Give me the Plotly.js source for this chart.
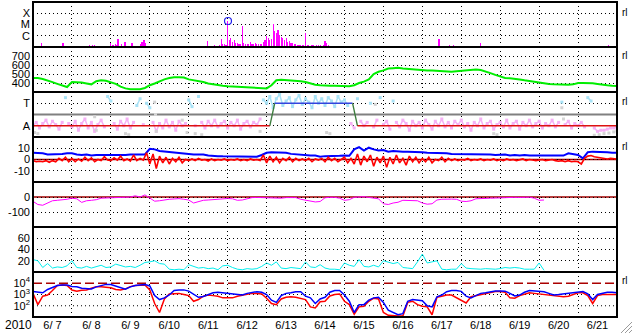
<!DOCTYPE html>
<html><head><meta charset="utf-8">
<script src="https://cdn.plot.ly/plotly-3.0.1.min.js"></script>
<style>html,body{margin:0;padding:0;background:#fff}#chart{width:633px;height:334px}</style>
</head><body><div id="chart"></div>
<script>
// ---------- DATA (hours counted from 2010-06-07 00:00 UT) ----------
// Panel 1: GOES X-ray, log10 flux (W/m2)
const xrayHours = [5.5,18.5,20.3,35,36.5,38,45.6,48,49.3,50.6,51.8,52.4,54.3,56.7,61,62.3,66,67.2,68.4,69,86.3,91.9,107.3,
  112,113,114,115,116,117,118,119,120,121,122,123,124,125,126,127,128,129,130,131,132,133,134,135,136,137,138,139,140,141,
  142,143,144,145,146,147,148,149,150,151,152,153,154,155,156,157,158,159,160,161,162,163,164,165,166,167,168,169,170,171,
  172,173,174,175,176,177,178,179,180,181,182,183,
  249.7,250.3,257,259,275.6,282.4,355];
const xrayLog = [-6.64,-6.64,-6.91,-6.82,-6.82,-6.82,-6.91,-6.64,-6.82,-6.73,-6.82,-6.29,-6.73,-6.56,-6.64,-6.91,-6.73,-6.56,-6.38,-6.64,-6.91,-6.91,-6.47,
  -6.82,-6.91,-6.91,-6.78,-6.3,-6.7,-6.73,-6.85,-4.69,-6.38,-6.2,-6.56,-6.38,-6.64,-6.64,-6.73,-6.73,-5.13,-6.64,-6.73,-6.73,-6.73,
  -6.56,-6.73,-6.73,-6.64,-6.73,-6.73,-6.73,-6.73,
  -6.56,-6.38,-6.02,-6.2,-6.38,-6.3,-4.96,-5.6,-5.76,-5.49,-5.9,-6.1,-6.2,-6.38,-6.2,-6.56,-6.47,-6.64,-6.64,-6.73,-6.73,-6.82,
  -6.85,-6.82,-6.82,-6.85,-5.76,-6.82,-6.85,-6.88,-6.82,-6.85,-6.88,-6.82,-6.85,-6.85,-6.88,-6.82,-6.47,-6.64,-6.82,-6.88,
  -6.64,-6.29,-6.82,-6.82,-6.64,-6.91,-6.82];
const flareHours = [120.2];
const flareLog = [-4.69];
const xrayTickVals = [-6, -5, -4];
const xrayTickText = ['C', 'M', 'X'];

// Panel 2: solar wind speed (km/s), every 3 h
const windSpeed = [
  455,455,445,430,410,390,370,355,
  410,410,405,395,385,420,430,425,
  410,390,360,340,330,330,330,345,
  375,395,420,440,455,465,465,460,
  440,432,425,410,395,385,378,370,
  365,362,358,355,352,348,345,340,
  340,375,430,435,432,430,428,420,
  410,395,380,375,370,370,370,370,
  368,365,375,400,415,440,500,525,
  540,560,565,570,560,555,550,545,
  545,540,540,535,530,525,525,530,
  535,545,550,550,545,530,510,490,
  470,455,452,450,440,430,420,415,
  405,395,388,385,382,380,380,385,
  400,400,402,398,390,380,375,370,
  368];

// Panel 3: IMF sector indicator (A=1, T=3), every 2 h
const imfPhi = [
  1.0,1.3,0.8,1.2,1.5,0.9,1.4,1.1,0.7,1.3,3.5,1.2,
  0.9,1.4,0.6,1.2,1.6,0.8,1.3,0.5,1.1,1.5,0.9,3.6,
  3.2,1.2,0.7,1.4,1.0,1.6,0.8,1.3,2.8,3.4,1.1,3.0,
  2.6,1.3,0.5,1.2,0.8,1.5,0.9,1.3,0.6,1.4,1.0,1.2,
  3.3,2.7,1.0,3.6,1.3,0.8,1.4,1.0,1.5,0.9,1.2,1.4,
  0.8,1.3,1.0,1.5,0.7,1.2,1.4,0.9,1.3,1.1,1.6,3.3,
  3.0,3.6,2.6,3.4,3.8,2.8,3.2,3.5,2.7,3.3,3.7,2.9,
  3.4,3.1,2.6,3.6,3.0,3.4,2.8,3.5,3.2,2.7,3.6,3.1,
  3.3,2.8,1.2,0.8,3.4,1.4,1.0,1.3,3.0,0.9,1.5,3.5,
  1.1,1.4,0.7,3.2,1.3,0.9,1.5,1.2,0.6,1.4,1.0,1.3,
  0.8,1.5,1.1,0.7,1.4,1.0,1.6,0.9,1.3,0.8,1.4,1.1,
  1.5,0.9,1.2,0.6,1.3,1.0,1.6,0.8,1.2,1.4,0.7,1.1,
  1.3,0.9,1.5,0.8,1.2,1.4,0.7,1.3,1.0,1.5,0.9,1.2,
  1.4,0.8,1.2,1.0,1.5,0.9,1.3,3.1,1.1,1.4,0.8,1.2,
  1.0,1.3,0.9,3.5,3.2,0.8,0.5,0.6,0.6,0.7,0.8,0.8,
  0.9];
const grayHours = [1,3,38,39,57,59,75,75.5,76,92,95,100,104,140,181,183,211,284,286,326,327,346,349,352,355,358,360];
const grayVals  = [0.4,0.3,1.8,0.6,0.3,0.2,3.1,2.0,0.5,1.5,0.4,0.3,0.2,0.5,0.4,0.3,2.9,0.3,0.2,2.6,1.6,0.15,0.2,0.3,0.35,0.45,0.55];
const sectorHours = [0, 146, 149, 197, 200, 360];
const sectorVals  = [1, 1, 3, 3, 1, 1];
const sectorColors = ['#dd1111', '#3d7d3d', '#3344dd', '#3d7d3d', '#dd1111'];
const sectorTickVals = [1, 3];
const sectorTickText = ['A', 'T'];

// Panel 4: IMF Bt (every 3 h) and Bz (every 2 h), nT
const imfBt = [
  6,6,5.5,4.5,4.5,4.5,5,5.5,
  5.5,4.5,4,4.5,3.5,4,4,3.5,
  4,3.5,4,4,4.5,4.5,4,4.5,
  9.5,9,7.5,7,7,6,5.5,5.5,
  5,4.5,4.5,4.5,3.5,3,3,2.8,
  2.8,2.5,2.5,2.5,2.5,2.5,2.5,4,
  6,6.5,6.5,6.5,6,5,4.5,4,
  4,3.5,3.5,2.5,3,3.3,3.3,3.3,
  3.5,3.3,9,11,8,10.5,9,8,
  8.5,7,7.5,7,7,7,7,6.5,
  6.5,6,6,5.5,6,5.5,5,5,
  5,4.5,5,4.5,4.5,4.5,4.5,4,
  4,4.5,3.5,4,3.5,4,3.5,3.5,
  3.5,3.5,3.3,3.5,3.3,3.5,5.5,5,
  4,1,6.5,7,7,6.5,6.5,6,
  6];
const imfBz = [
  -1,-2,-1.5,-2,-1,-2.5,-1,-2,1,-1,2,-2,
  1,-2,0.5,-1.5,2,-1,1.5,-2,0,-1,2.5,-0.5,
  -1,1.5,-0.5,3,-1,0.5,-1.5,4,-1,1,-0.5,6,
  -4,5,-8,3,-3,2,-4,1,-2,2,-3,0,
  -1,0.5,-1,1,-0.5,0,-1.5,0.5,-1,0,-0.5,0.5,
  -1,0,-0.5,0.5,-1,0,-1,0.5,-0.5,0,-1,4,
  -3,3,-2,2,-3,1,-1,2,-2,1,-1,0.5,
  -1,1,-2,0.5,-0.5,1,-2,2,-1,1,-2,0,
  2,-3,1,-4,5,-5,3,-2,4,-6,2,-3,
  3,-7,2,-4,4,-3,1,-5,3,-2,2,-3,
  1,-2,2,-3,0,-1,2,-2,1,-1,0.5,-1,
  0,-0.5,1,-1,0,-0.5,0.5,-1,0,-0.5,0.5,-1,
  0,-1,0.5,-0.5,0,-1,-0.5,0.5,-1,0,-0.5,-1,
  -0.5,0,-1,-0.5,0,-1,-1.5,-1,-2,-1,-2,-1.5,
  -2,-4,1,3,3.5,2.5,2,1.5,1,0.5,1,0.5,
  0.5];

// Panel 5: Dst (nT), every 3 h
const dst = [
  -29,-50,-55,-38,-25,-22,-20,-15,
  -8,-12,-36,-25,-22,-18,-8,-7,
  -6,-5,-3,-2,0,8,0,14,
  -6,-28,-25,-18,-15,-13,-11,-15,
  -20,-40,-30,-22,-20,-18,-12,-10,
  -10,-12,-22,-20,-10,-4,-3,-4,
  -5,-11,-10,-8,-4,-3,-4,-15,
  -22,-24,-33,-30,-5,-2,-2,-8,
  -22,-18,-2,0,2,-3,-10,-12,
  -45,-50,-40,-35,-22,-22,-24,-25,
  -40,-48,-45,-20,-15,-13,-14,-15,
  -28,-30,-25,-12,-9,-8,-8,-7,
  -5,-4,-3,-2,-3,-2,-1,-8,
  -22,-20];
const dstTickVals = [-100, 0];
const dstTickText = ['-100', '0'];

// Panel 6: every 3 h
const panel6 = [
  22,20,8,15,7,9,8,11,
  20,8,7,10,7,9,12,8,
  9,14,12,9,10,8,12,17,
  18,20,15,14,5,4,5,4,
  13,10,7,8,6,7,4,11,
  12,8,5,4,6,5,6,10,
  16,12,18,7,6,8,7,6,
  18,9,8,13,7,5,5,4,
  16,12,10,22,10,9,12,9,
  20,18,15,17,8,7,6,18,
  32,16,18,20,5,4,5,5,
  15,7,6,5,5,6,5,5,
  6,8,7,8,7,5,5,5,
  16,3];

// Panel 7: electron flux, log10, every 3 h
const fluxBlueLog = [
  3.26,3.2,3.15,3.45,3.65,3.8,3.85,3.85,
  3.72,3.68,3.56,3.55,3.5,3.68,3.8,3.9,
  3.88,3.72,3.62,3.47,3.68,3.8,3.85,3.88,
  3.76,2.9,2.55,2.7,2.96,3.35,3.41,3.41,
  3.3,3.0,2.75,2.82,2.95,3.15,3.2,3.15,
  3.1,3.0,2.96,2.96,3.1,3.2,3.25,3.2,
  3.0,2.5,2.3,2.9,3.1,3.15,3.25,3.25,
  2.85,2.7,2.2,2.6,2.75,3.2,3.35,3.35,
  2.96,2.4,1.4,2.1,2.1,2.5,2.7,2.75,
  2.3,1.6,1.4,1.2,1.3,2.4,2.55,2.5,
  2.45,2.0,1.9,2.8,2.95,3.25,3.35,3.35,
  3.28,2.85,2.7,2.9,3.1,3.15,3.25,3.32,
  3.32,3.3,3.1,2.87,2.95,3.2,3.35,3.32,
  3.28,3.25,3.1,2.96,3.0,3.05,3.1,3.2,
  3.26,3.26,3.05,2.55,3.0,3.1,3.2,3.2,
  3.15];
const fluxRedLog = [
  3.1,2.1,2.85,2.96,3.35,3.8,3.85,3.8,
  3.4,3.3,3.38,3.4,3.55,3.7,3.7,3.65,
  3.6,3.45,3.4,3.5,3.7,3.8,3.85,3.85,
  3.4,2.2,1.4,2.6,3.05,3.1,3.1,3.0,
  2.9,2.4,2.55,2.85,2.95,2.9,2.85,2.7,
  2.67,2.7,2.85,2.95,3.05,3.1,3.1,3.05,
  2.67,2.2,2.1,2.6,2.75,2.8,2.75,2.67,
  2.55,1.9,1.8,2.35,2.4,2.87,3.0,3.05,
  2.4,2.1,1.25,1.9,1.95,2.4,2.67,2.6,
  1.4,1.15,1.1,1.1,1.1,2.3,2.4,2.1,
  1.95,1.9,1.2,2.75,2.85,2.95,2.95,2.7,
  2.5,2.25,2.8,2.9,3.0,3.05,3.2,3.26,
  3.26,3.2,2.7,2.67,2.9,3.05,3.15,3.1,
  3.05,2.96,2.9,2.85,2.85,2.8,2.85,3.0,
  3.15,3.15,2.9,2.2,2.9,3.0,3.0,3.0,
  3.0];
const fluxTickVals = [2, 3, 4];
const fluxTickText = ['10<sup>2</sup>', '10<sup>3</sup>', '10<sup>4</sup>'];

// ---------- helpers ----------
const T0 = Date.UTC(2010, 5, 7);
const dt = h => new Date(T0 + h * 3600000).toISOString().slice(0, 19).replace('T', ' ');
const hrs = (arr, step) => arr.map((_, i) => i * step);
const X3 = a => hrs(a, 3).map(dt);
const X2 = a => hrs(a, 2).map(dt);
const XRAY_FLOOR = -7;

const L = 33, R = 617, TOPPX = 2, BOTPX = 317;
const PW = R - L, PH = BOTPX - TOPPX, PANEL = 45;
const px = x => (x - L) / PW;
const py = y => (BOTPX - y) / PH;
const dom = i => [py(TOPPX + PANEL * (i + 1)), py(TOPPX + PANEL * i)];

// ---------- traces ----------
const traces = [];
traces.push({type: 'bar', x: xrayHours.map(dt), y: xrayLog.map(v => v - XRAY_FLOOR), base: XRAY_FLOOR,
  width: 2500000, marker: {color: '#ff00ff', line: {width: 0}}, xaxis: 'x', yaxis: 'y'});
traces.push({type: 'scatter', mode: 'markers', x: flareHours.map(dt), y: flareLog, xaxis: 'x', yaxis: 'y',
  marker: {symbol: 'circle-open', size: 7, color: '#2222ee', line: {width: 1.2, color: '#2222ee'}}});

traces.push({type: 'scatter', mode: 'lines', x: X3(windSpeed), y: windSpeed, xaxis: 'x', yaxis: 'y2',
  line: {color: '#00ee00', width: 2}});

const phiX = X2(imfPhi);
traces.push({type: 'scatter', mode: 'lines+markers', x: phiX, y: imfPhi.map(v => v < 2 ? v : null), xaxis: 'x', yaxis: 'y3',
  line: {color: '#f5b0f5', width: 1.5}, marker: {color: '#f5b0f5', size: 3, symbol: 'square'}, connectgaps: false});
traces.push({type: 'scatter', mode: 'lines+markers', x: phiX, y: imfPhi.map(v => v >= 2 ? v : null), xaxis: 'x', yaxis: 'y3',
  line: {color: '#a8e2f6', width: 1.5}, marker: {color: '#a8e2f6', size: 3, symbol: 'square'}, connectgaps: false});
traces.push({type: 'scatter', mode: 'markers', x: grayHours.map(dt), y: grayVals, xaxis: 'x', yaxis: 'y3',
  marker: {color: '#d4d4d4', size: 3, symbol: 'square'}});
for (let k = 0; k < sectorColors.length; k++) {
  traces.push({type: 'scatter', mode: 'lines', x: [dt(sectorHours[k]), dt(sectorHours[k + 1])],
    y: [sectorVals[k], sectorVals[k + 1]], xaxis: 'x', yaxis: 'y3', line: {color: sectorColors[k], width: 1.3}});
}

traces.push({type: 'scatter', mode: 'lines', x: X3(imfBt), y: imfBt, xaxis: 'x', yaxis: 'y4',
  line: {color: '#0000ff', width: 2}});
traces.push({type: 'scatter', mode: 'lines', x: X2(imfBz), y: imfBz, xaxis: 'x', yaxis: 'y4',
  line: {color: '#ff0000', width: 1.6}});

traces.push({type: 'scatter', mode: 'lines', x: X3(dst), y: dst, xaxis: 'x', yaxis: 'y5',
  line: {color: '#ff00ff', width: 1}});

traces.push({type: 'scatter', mode: 'lines', x: X3(panel6), y: panel6, xaxis: 'x', yaxis: 'y6',
  line: {color: '#00eeee', width: 1}});

traces.push({type: 'scatter', mode: 'lines', x: X3(fluxRedLog), y: fluxRedLog, xaxis: 'x', yaxis: 'y7',
  line: {color: '#ff0000', width: 1.5}});
traces.push({type: 'scatter', mode: 'lines', x: X3(fluxBlueLog), y: fluxBlueLog, xaxis: 'x', yaxis: 'y7',
  line: {color: '#0000ff', width: 1.5}});

// ---------- layout ----------
const FONT = 'Liberation Sans, Arial, Helvetica, sans-serif';
const TICKFONT = {family: FONT, size: 11, color: '#000'};
function yax(i, range, tickvals, ticktext, extra) {
  return Object.assign({domain: dom(i), range, tickmode: 'array', tickvals, ticktext, anchor: 'x',
    showgrid: true, gridcolor: '#000', griddash: '1px,3px', gridwidth: 1, zeroline: false, showline: false,
    ticks: '', fixedrange: true, tickfont: TICKFONT, ticklabelstandoff: 2}, extra || {});
}

const shapes = [];
for (let i = 0; i < 7; i++) {
  const d = dom(i);
  shapes.push({type: 'rect', xref: 'paper', yref: 'paper', x0: 0, x1: 1, y0: d[0], y1: d[1],
    line: {color: '#000', width: 2}, layer: 'above'});
}
shapes.push({type: 'line', xref: 'paper', yref: 'y3', x0: 0, x1: 1, y0: 2, y1: 2, line: {color: '#808080', width: 2}, layer: 'between'});
shapes.push({type: 'line', xref: 'paper', yref: 'y4', x0: 0, x1: 1, y0: 0, y1: 0, line: {color: '#a00000', width: 1.5}, layer: 'between'});
shapes.push({type: 'line', xref: 'paper', yref: 'y5', x0: 0, x1: 1, y0: 0, y1: 0, line: {color: '#a00000', width: 1.5}, layer: 'between'});
shapes.push({type: 'line', xref: 'paper', yref: 'y7', x0: 0, x1: 1, y0: 4, y1: 4, line: {color: '#aa0000', width: 1.5, dash: '9px,4px'}, layer: 'between'});
[2, 3].forEach(v => shapes.push({type: 'line', xref: 'paper', yref: 'y7', x0: 0, x1: 1, y0: v, y1: v,
  line: {color: '#000', width: 1, dash: '1px,3px'}, layer: 'between'}));
// resize grip in the corner
[[621, 333, 632, 322], [625, 333, 632, 326], [629, 333, 632, 330]].forEach(s =>
  shapes.push({type: 'line', xref: 'paper', yref: 'paper', x0: px(s[0]), y0: py(s[1]), x1: px(s[2]), y1: py(s[3]),
    line: {color: '#9a9a9a', width: 1}}));

const annotations = [{text: '2010', xref: 'paper', yref: 'paper', x: px(18), y: py(325), xanchor: 'center', yanchor: 'middle',
  showarrow: false, font: {family: FONT, size: 12, color: '#000'}}];
[12, 56, 101, 146, 280].forEach(y => annotations.push({text: 'rl', xref: 'paper', yref: 'paper', x: px(620), y: py(y),
  xanchor: 'left', yanchor: 'middle', showarrow: false, font: {family: FONT, size: 10, color: '#000'}}));

const layout = {
  width: 633, height: 334, margin: {l: L, r: 633 - R, t: TOPPX, b: 334 - BOTPX, pad: 0},
  paper_bgcolor: '#fff', plot_bgcolor: '#fff', showlegend: false, font: {family: FONT, size: 11, color: '#000'},
  xaxis: {domain: [0, 1], anchor: 'y7', type: 'date', range: [dt(0), dt(360)], tickmode: 'linear', tick0: dt(0),
    dtick: 86400000, ticklabelmode: 'period', tickformat: '%-m/%_d', showgrid: true, gridcolor: '#000',
    griddash: '1px,3px', gridwidth: 1, ticks: '', zeroline: false, showline: false, fixedrange: true,
    tickfont: TICKFONT},
  yaxis: yax(0, [-7, -3], xrayTickVals, xrayTickText),
  yaxis2: yax(1, [300, 800], [400, 500, 600, 700], ['400', '500', '600', '700']),
  yaxis3: yax(2, [0, 4], sectorTickVals, sectorTickText),
  yaxis4: yax(3, [-20, 20], [-10, 0, 10], ['-10', '0', '10']),
  yaxis5: yax(4, [-200, 100], dstTickVals, dstTickText),
  yaxis6: yax(5, [0, 80], [20, 40, 60], ['20', '40', '60']),
  yaxis7: yax(6, [1, 5], fluxTickVals, fluxTickText, {showgrid: false}),
  shapes, annotations, bargap: 0
};

Plotly.newPlot('chart', traces, layout, {displayModeBar: false, staticPlot: true});
</script></body></html>
